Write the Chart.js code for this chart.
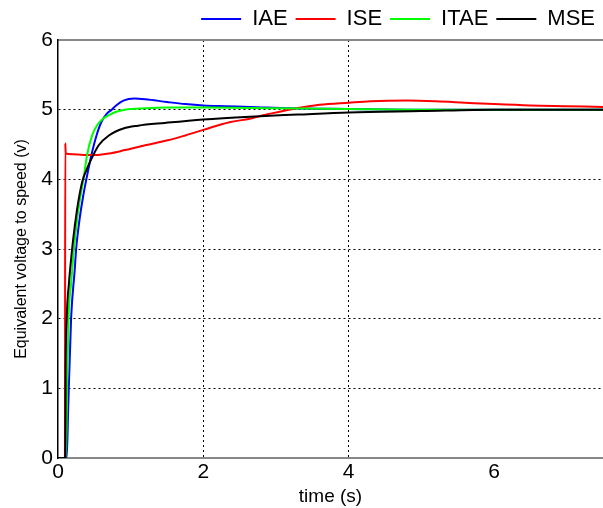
<!DOCTYPE html>
<html>
<head>
    <script src="https://cdn.jsdelivr.net/npm/chart.js@4"></script>
    <style>
        body { margin: 0; background: #fff; }
    </style>
</head>
<body>
<canvas id="chart" width="603" height="508"></canvas>
<script>
    // step responses, time in s, voltage in V
    const seriesNames = ['IAE', 'ISE', 'ITAE', 'MSE'];
    const seriesColors = ['#0000ff', '#ff0000', '#00ff00', '#000000'];

    const iaeTime = [0, 0.12, 0.14, 0.18, 0.23, 0.25, 0.30, 0.35, 0.39, 0.46, 0.53, 0.60, 0.67, 0.74, 0.8, 0.9, 1.05, 1.2, 1.5, 1.75, 2.0, 2.3, 2.64, 3.2, 4.0, 5.0, 6.0, 7.5];
    const iaeVolt = [0, 0, 0.7, 2.0, 2.7, 3.0, 3.45, 3.78, 4.0, 4.35, 4.63, 4.83, 4.94, 5.0, 5.06, 5.13, 5.16, 5.15, 5.11, 5.08, 5.06, 5.05, 5.04, 5.02, 5.01, 5.0, 5.0, 5.0];

    const iseTime = [0, 0.095, 0.1, 0.106, 0.2, 0.35, 0.55, 0.7, 0.92, 1.2, 1.51, 1.75, 2.0, 2.36, 2.64, 2.82, 3.05, 3.28, 3.6, 4.0, 4.3, 4.8, 5.2, 5.6, 6.0, 6.5, 7.0, 7.5];
    const iseVolt = [0, 0, 4.52, 4.37, 4.36, 4.35, 4.35, 4.37, 4.42, 4.49, 4.56, 4.63, 4.71, 4.82, 4.87, 4.92, 4.97, 5.02, 5.07, 5.10, 5.12, 5.13, 5.12, 5.10, 5.08, 5.06, 5.05, 5.04];

    const itaeTime = [0, 0.11, 0.125, 0.145, 0.18, 0.215, 0.26, 0.30, 0.35, 0.40, 0.47, 0.54, 0.62, 0.70, 0.8, 0.92, 1.2, 1.5, 2.0, 3.0, 4.0, 5.0, 6.0, 7.5];
    const itaeVolt = [0, 0, 1.0, 2.0, 2.5, 2.95, 3.4, 3.7, 4.0, 4.35, 4.63, 4.78, 4.87, 4.92, 4.97, 5.0, 5.02, 5.03, 5.03, 5.02, 5.01, 5.0, 5.0, 5.0];

    const mseTime = [0, 0.1, 0.105, 0.12, 0.15, 0.18, 0.21, 0.26, 0.30, 0.34, 0.39, 0.44, 0.56, 0.70, 0.90, 1.1, 1.47, 2.0, 2.64, 3.3, 4.0, 5.0, 6.0, 7.5];
    const mseVolt = [0, 0, 1.2, 2.0, 2.5, 2.85, 3.15, 3.55, 3.8, 3.99, 4.13, 4.25, 4.49, 4.63, 4.73, 4.77, 4.81, 4.86, 4.90, 4.93, 4.96, 4.98, 5.0, 5.0];

    const xTicks = [0, 2, 4, 6];
    const yTicks = [0, 1, 2, 3, 4, 5, 6];

    const allTimes = [iaeTime, iseTime, itaeTime, mseTime];
    const allVolts = [iaeVolt, iseVolt, itaeVolt, mseVolt];

    const toPoints = (ts, vs) => ts.map((t, i) => ({ x: t, y: vs[i] }));

    // legend is taller than chart.js wants, pin it
    const legendHeight = {
        id: 'legendHeight',
        beforeInit(chart) {
            const fit = chart.legend.fit;
            chart.legend.fit = function () {
                fit.call(this);
                this.height = 40;
            };
        }
    };

    const gridColor = ctx => (ctx.tick && (ctx.tick.value === 0 || ctx.tick.value === 6 || ctx.tick.value === 7.5)) ? 'rgba(0,0,0,0)' : '#000';

    new Chart(document.getElementById('chart'), {
        type: 'line',
        data: {
            datasets: seriesNames.map((name, i) => ({
                label: name,
                data: toPoints(allTimes[i], allVolts[i]),
                borderColor: seriesColors[i],
                backgroundColor: seriesColors[i],
                borderWidth: 2,
                pointRadius: 0,
                fill: false,
                cubicInterpolationMode: 'monotone',
                order: seriesNames.length - i
            }))
        },
        options: {
            responsive: false,
            animation: false,
            layout: { padding: 0 },
            plugins: {
                tooltip: { enabled: false },
                legend: {
                    position: 'top',
                    align: 'end',
                    labels: {
                        usePointStyle: true,
                        pointStyle: 'line',
                        pointStyleWidth: 40,
                        boxWidth: 40,
                        padding: 8,
                        color: '#000',
                        font: { family: 'Arial, "Liberation Sans"', size: 22 },
                        sort: (a, b) => a.datasetIndex - b.datasetIndex
                    }
                }
            },
            scales: {
                x: {
                    type: 'linear',
                    min: 0,
                    max: 7.5,
                    afterBuildTicks: s => { s.ticks = xTicks.map(v => ({ value: v })); },
                    afterFit: s => { s.height = 50; },
                    ticks: {
                        color: '#000',
                        padding: 2,
                        font: { family: 'Arial, "Liberation Sans"', size: 21 }
                    },
                    grid: { color: gridColor, drawTicks: false, lineWidth: 1 },
                    border: { color: '#888', width: 2, dash: [2, 3] },
                    title: {
                        display: true,
                        text: 'time (s)',
                        color: '#000',
                        padding: 0,
                        font: { family: 'Arial, "Liberation Sans"', size: 19 }
                    }
                },
                x2: {
                    type: 'linear',
                    position: 'top',
                    min: 0,
                    max: 7.5,
                    afterFit: s => { s.height = 0; },
                    ticks: { display: false },
                    grid: { drawOnChartArea: false, drawTicks: false },
                    border: { color: '#888', width: 2 }
                },
                y: {
                    min: 0,
                    max: 6,
                    afterBuildTicks: s => { s.ticks = yTicks.map(v => ({ value: v })); },
                    afterFit: s => { s.width = 58; },
                    ticks: {
                        color: '#000',
                        padding: 5,
                        font: { family: 'Arial, "Liberation Sans"', size: 21 }
                    },
                    grid: { color: gridColor, drawTicks: false, lineWidth: 1 },
                    border: { color: '#000', width: 1.5, dash: [2, 3] },
                    title: {
                        display: true,
                        text: 'Equivalent voltage to speed (v)',
                        color: '#000',
                        padding: { top: 12, bottom: 0 },
                        font: { family: 'Arial, "Liberation Sans"', size: 16 }
                    }
                }
            }
        },
        plugins: [legendHeight]
    });
</script>
</body>
</html>
